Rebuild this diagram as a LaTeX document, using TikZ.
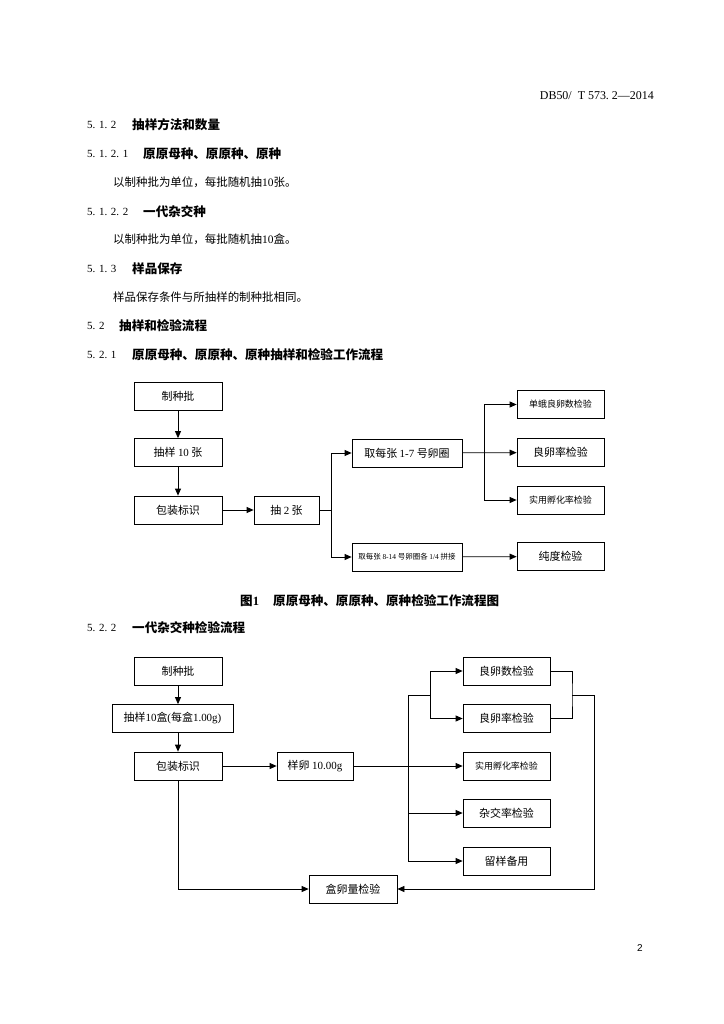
\documentclass[tikz,border=0pt]{standalone}
\usepackage{fontspec}
\setmainfont{Liberation Serif}
\newfontfamily\cjk{Noto Sans CJK SC}
\newfontfamily\pgsans{Liberation Sans}
\usetikzlibrary{arrows.meta}

\newcommand{\ltn}[1]{{\rmfamily #1}}

\begin{document}
\begin{tikzpicture}[x=1bp, y=-1bp, >={Triangle[length=7bp, width=6bp]},
    flow/.style={draw, line width=0.75pt, inner sep=1pt, minimum height=28bp, font=\cjk\fontsize{11}{13}\selectfont},
    small/.style={font=\cjk\fontsize{9}{11}\selectfont},
    tiny/.style={font=\cjk\fontsize{7.5}{9}\selectfont},
    link/.style={line width=0.75pt},
    num/.style={anchor=west, inner sep=0pt, font=\rmfamily\fontsize{11}{13}\selectfont},
    head/.style={anchor=west, inner sep=0pt, font=\cjk\bfseries\fontsize{12.6}{15}\selectfont},
    body/.style={anchor=west, inner sep=0pt, font=\cjk\fontsize{11.5}{14}\selectfont}]
    \path[fill=white, use as bounding box] (0,0) rectangle (724,1024);

    % page text
    \node[num, anchor=east, font=\rmfamily\fontsize{12}{14}\selectfont] (hdr) at (654,96) {DB50/\ \ T\ 573.\ 2—2014};
    \node[num] (n512) at (87,125) {5. 1. 2};
    \node[head] (h512) at (132,125) {抽样方法和数量};
    \node[num] (n5121) at (87,154) {5. 1. 2. 1};
    \node[head] (h5121) at (143,154) {原原母种、原原种、原种};
    \node[body] (b5121) at (113,182) {以制种批为单位，每批随机抽\ltn{10}张。};
    \node[num] (n5122) at (87,212) {5. 1. 2. 2};
    \node[head] (h5122) at (143,212) {一代杂交种};
    \node[body] (b5122) at (113,239) {以制种批为单位，每批随机抽\ltn{10}盒。};
    \node[num] (n513) at (87,269) {5. 1. 3};
    \node[head] (h513) at (132,269) {样品保存};
    \node[body] (b513) at (113,297) {样品保存条件与所抽样的制种批相同。};
    \node[num] (n52) at (87,326) {5. 2};
    \node[head] (h52) at (119,326) {抽样和检验流程};
    \node[num] (n521) at (87,355) {5. 2. 1};
    \node[head] (h521) at (132,355) {原原母种、原原种、原种抽样和检验工作流程};

    % figure 1
    \node[flow, minimum width=88bp] (zhiA) at (178,396) {制种批};
    \node[flow, minimum width=88bp] (chouA) at (178,452.5) {抽样 \ltn{10} 张};
    \node[flow, minimum width=88bp] (bzA) at (178,510) {包装标识};
    \node[flow, minimum width=65bp] (chou2) at (286.5,510) {抽 \ltn{2} 张};
    \node[flow, minimum width=110bp] (luan17) at (407,453) {取每张 \ltn{1-7} 号卵圈};
    \node[flow, tiny, minimum width=110bp] (luan814) at (407,557) {取每张 \ltn{8-14} 号卵圈各 \ltn{1/4} 拼接};
    \node[flow, small, minimum width=87bp] (danA) at (560.5,404.5) {单蛾良卵数检验};
    \node[flow, minimum width=87bp] (lvA) at (560.5,452.5) {良卵率检验};
    \node[flow, small, minimum width=87bp] (fhA) at (560.5,500) {实用孵化率检验};
    \node[flow, minimum width=87bp] (cdA) at (560.5,556.5) {纯度检验};

    \draw[link, ->] (zhiA) -- (chouA);
    \draw[link, ->] (chouA) -- (bzA);
    \draw[link, ->] (bzA) -- (chou2);
    \coordinate (splitA) at (331,510);
    \draw[link] (chou2) -- (splitA);
    \draw[link, ->] (splitA) |- (luan17);
    \draw[link, ->] (splitA) |- (luan814);
    \coordinate (splitB) at (484,453);
    \draw[link, ->] (luan17) -- (lvA);
    \draw[link, ->] (splitB) |- (danA);
    \draw[link, ->] (splitB) |- (fhA);
    \draw[link, ->] (luan814) -- (cdA);

    \node[head, anchor=west] (cap1a) at (240,601) {图\ltn{1}};
    \node[head] (cap1) at (273,601) {原原母种、原原种、原种检验工作流程图};
    \node[num] (n522) at (87,628) {5. 2. 2};
    \node[head] (h522) at (132,628) {一代杂交种检验流程};

    % figure 2
    \node[flow, minimum width=88bp] (zhiB) at (178,671) {制种批};
    \node[flow, minimum width=121bp] (chouB) at (172.5,718.5) {抽样\ltn{10}盒\ltn{(}每盒\ltn{1.00g)}};
    \node[flow, minimum width=88bp] (bzB) at (178,766) {包装标识};
    \node[flow, minimum width=76bp] (yangB) at (315,766) {样卵 \ltn{10.00g}};
    \node[flow, minimum width=87bp] (shuB) at (506.5,671) {良卵数检验};
    \node[flow, minimum width=87bp] (lvB) at (506.5,718.5) {良卵率检验};
    \node[flow, small, minimum width=87bp] (fhB) at (506.5,766) {实用孵化率检验};
    \node[flow, minimum width=87bp] (zjB) at (506.5,813) {杂交率检验};
    \node[flow, minimum width=87bp] (lyB) at (506.5,861) {留样备用};
    \node[flow, minimum width=88bp] (hlB) at (353,889) {盒卵量检验};

    \draw[link, ->] (zhiB) -- (zhiB |- chouB.north);
    \draw[link, ->] (zhiB |- chouB.south) -- (bzB);
    \draw[link, ->] (bzB) -- (yangB);
    \draw[link, ->] (yangB) -- (fhB);
    \coordinate (trunk) at (408,695);
    \coordinate (fork) at (430,695);
    \draw[link] (trunk) -- (trunk |- fhB);
    \draw[link, ->] (trunk) |- (zjB);
    \draw[link, ->] (trunk) |- (lyB);
    \draw[link] (trunk) -- (fork);
    \draw[link, ->] (fork) |- (shuB);
    \draw[link, ->] (fork) |- (lvB);
    \coordinate (join) at (572,695);
    \draw[link] (shuB) -| (join) |- (lvB);
    \draw[link, ->] (join) -- ++(22,0) |- (hlB);
    \draw[link, ->] (bzB) |- (hlB);

    \node[inner sep=0pt, font=\pgsans\fontsize{10}{12}\selectfont] (pg) at (640,948) {2};
\end{tikzpicture}
\end{document}
